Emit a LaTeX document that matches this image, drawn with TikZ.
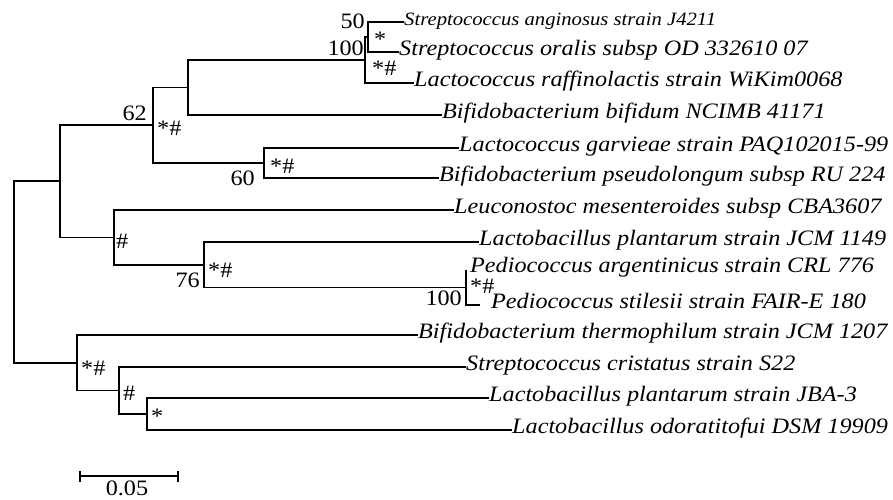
\documentclass[tikz,border=0pt]{standalone}
\usepackage{fontspec}
\setmainfont{Liberation Serif}[FakeStretch=1.1]
\begin{document}
\begin{tikzpicture}[x=1pt,y=-1pt,
  br/.style={line width=1.8pt},
  leaf/.style={anchor=west,inner sep=0pt,xshift=4pt,font=\fontsize{22}{24}\selectfont\itshape,text height=0.7em,text depth=0.06em},
  small/.style={font=\fontsize{18.8}{20}\selectfont\itshape},
  bsl/.style={anchor=base east,inner sep=0pt,font=\fontsize{22}{24}\selectfont},
  sym/.style={anchor=base west,inner sep=0pt,font=\fontsize{22}{24}\selectfont},
  ]
\useasboundingbox (0,0) rectangle (893,499);
% leaves
\node[leaf,small] (l1) at (400,22) {Streptococcus anginosus strain J4211};
\node[leaf] (l2) at (395,52) {Streptococcus oralis subsp OD 332610 07};
\node[leaf] (l3) at (410,83) {Lactococcus raffinolactis strain WiKim0068};
\node[leaf] (l4) at (438,115) {Bifidobacterium bifidum NCIMB 41171};
\node[leaf] (l5) at (455,148) {Lactococcus garvieae strain PAQ102015-99};
\node[leaf] (l6) at (435,178) {Bifidobacterium pseudolongum subsp RU 224};
\node[leaf] (l7) at (450,210) {Leuconostoc mesenteroides subsp CBA3607};
\node[leaf] (l8) at (475,242) {Lactobacillus plantarum strain JCM 1149};
\coordinate (l9e) at (466,270);
\node[leaf] (l9) at (466,269) {Pediococcus argentinicus strain CRL 776};
\coordinate (l10e) at (480,305);
\node[leaf] (l10) at (487,305) {Pediococcus stilesii strain FAIR-E 180};
\node[leaf] (l11) at (414,335) {Bifidobacterium thermophilum strain JCM 1207};
\node[leaf] (l12) at (462,367) {Streptococcus cristatus strain S22};
\node[leaf] (l13) at (485,398) {Lactobacillus plantarum strain JBA-3};
\node[leaf] (l14) at (508,430) {Lactobacillus odoratitofui DSM 19909};
% internal nodes
\coordinate (E) at (368,37);
\coordinate (D) at (365,60);
\coordinate (C) at (188,87.5);
\coordinate (F) at (264,163);
\coordinate (B) at (153,125.25);
\coordinate (I) at (466,287.5);
\coordinate (H) at (204,264.75);
\coordinate (G) at (114,237.4);
\coordinate (A) at (60,181.3);
\coordinate (L) at (147,414);
\coordinate (K) at (119,390.5);
\coordinate (J) at (77,362.75);
\coordinate (R) at (14,272);
% branches
\draw[br] (E) |- (l1.west) (E) |- (l2.west);
\draw[br] (D) |- (E) (D) |- (l3.west);
\draw[br] (C) |- (D) (C) |- (l4.west);
\draw[br] (F) |- (l5.west) (F) |- (l6.west);
\draw[br] (B) |- (C) (B) |- (F);
\draw[br] (I) |- (l9e) (I) |- (l10e);
\draw[br] (H) |- (l8.west) (H) |- (I);
\draw[br] (G) |- (l7.west) (G) |- (H);
\draw[br] (A) |- (B) (A) |- (G);
\draw[br] (L) |- (l13.west) (L) |- (l14.west);
\draw[br] (K) |- (l12.west) (K) |- (L);
\draw[br] (J) |- (l11.west) (J) |- (K);
\draw[br] (R) |- (A) (R) |- (J);
% support labels
\node[bsl] (s50) at (365,28) {50};
\node[bsl] (s100a) at (364,55) {100};
\node[sym] (aE) at (374,46) {*};
\node[sym] (aD) at (372,75) {*\#};
\node[bsl] (s62) at (147,120) {62};
\node[sym] (aB) at (157,135) {*\#};
\node[sym] (aF) at (270,173) {*\#};
\node[bsl] (s60) at (255,185) {60};
\node[sym] (aG) at (116,248) {\#};
\node[sym] (aH) at (208,277) {*\#};
\node[bsl] (s76) at (200,287) {76};
\node[sym] (aI) at (470,293) {*\#};
\node[bsl] (s100b) at (462,305) {100};
\node[sym] (aJ) at (81,375) {*\#};
\node[sym] (aK) at (123,400) {\#};
\node[sym] (aL) at (151,423) {*};
% scale bar
\coordinate (sb1) at (80,476);
\coordinate (sb2) at (178,476);
\draw[br] (sb1) -- (sb2);
\draw[br] ([yshift=-5.5pt]sb1) -- ([yshift=5.5pt]sb1);
\draw[br] ([yshift=-5.5pt]sb2) -- ([yshift=5.5pt]sb2);
\node[anchor=base,inner sep=0pt,font=\fontsize{22}{24}\selectfont] (sbl) at (127,495) {0.05};
\end{tikzpicture}
\end{document}
